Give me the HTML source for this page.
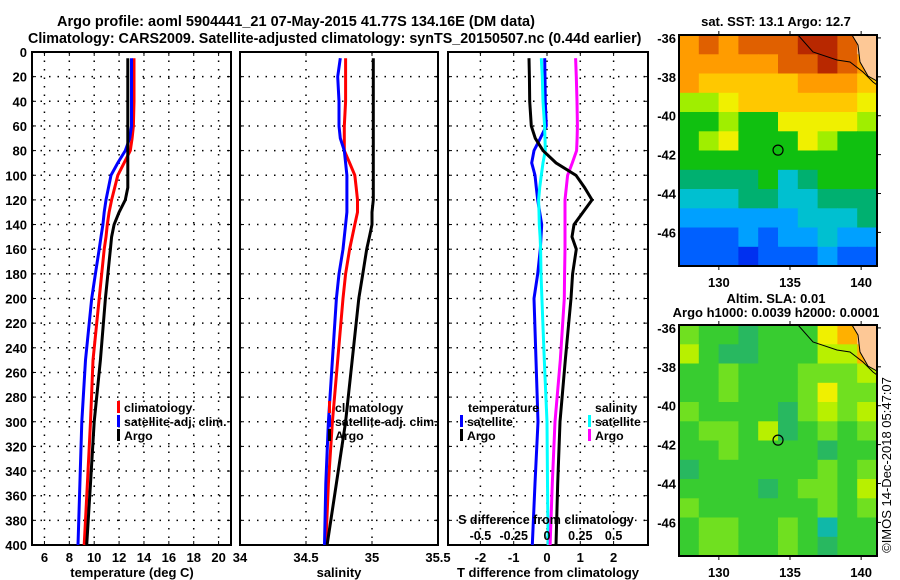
<!DOCTYPE html>
<html><head><meta charset="utf-8"><style>
body{margin:0;background:#fff;}
svg{display:block;font-family:"Liberation Sans",sans-serif;font-weight:bold;}
</style></head><body>
<svg id="c" width="900" height="580" xmlns="http://www.w3.org/2000/svg"></svg>
<script>
// ---- profile data ----
const depthT=[5,20,40,60,70,80,90,100,110,120,130,140,150,160,180,200,250,300,350,400];
const tempClim=[13.2,13.2,13.2,13.15,13.05,12.9,12.4,11.9,11.65,11.4,11.2,11.05,10.95,10.8,10.6,10.4,9.9,9.7,9.45,9.2];
const tempSat=[13.0,13.0,13.0,13.0,12.85,12.5,11.9,11.35,11.15,10.95,10.8,10.7,10.55,10.4,10.1,9.8,9.3,9.0,8.85,8.7];
const tempArgo=[12.7,12.7,12.7,12.7,12.7,12.7,12.7,12.7,12.7,12.5,12.0,11.6,11.4,11.3,11.1,10.9,10.5,10.0,9.7,9.4];
const salClim=[34.80,34.80,34.80,34.79,34.79,34.79,34.83,34.87,34.88,34.89,34.89,34.87,34.85,34.83,34.80,34.78,34.74,34.70,34.67,34.65];
const salSat=[34.76,34.74,34.75,34.75,34.76,34.79,34.80,34.81,34.81,34.81,34.81,34.80,34.79,34.78,34.75,34.73,34.70,34.67,34.65,34.64];
const salArgo=[35.01,35.01,35.01,35.01,35.01,35.01,35.01,35.01,35.01,35.01,35.0,35.0,34.98,34.96,34.93,34.90,34.85,34.80,34.73,34.66];
const tDiffSat=[-0.07,-0.06,-0.05,-0.02,-0.2,-0.39,-0.46,-0.36,-0.32,-0.28,-0.22,-0.16,-0.18,-0.2,-0.28,-0.39,-0.33,-0.27,-0.36,-0.44];
const tDiffArgo=[-0.54,-0.53,-0.52,-0.47,-0.35,-0.12,0.27,0.87,1.13,1.35,1.08,0.81,0.75,0.88,0.77,0.72,0.55,0.39,0.32,0.27];
const sDiffSat=[-0.043,-0.035,-0.03,-0.018,-0.015,-0.013,-0.03,-0.043,-0.055,-0.063,-0.06,-0.058,-0.052,-0.048,-0.045,-0.038,-0.02,0.0,0.004,0.008];
const sDiffArgo=[0.215,0.22,0.225,0.228,0.226,0.222,0.19,0.155,0.145,0.135,0.135,0.135,0.135,0.135,0.132,0.13,0.1,0.06,0.04,0.023];
const depthTicks=[0,20,40,60,80,100,120,140,160,180,200,220,240,260,280,300,320,340,360,380,400];
const tempTicks=[6,8,10,12,14,16,18,20];
const salTicks=[34,34.5,35,35.5];
const tdTicks=[-2,-1,0,1,2];
const sdTicks=[-0.5,-0.25,0,0.25,0.5];
const latTicks=[-36,-38,-40,-42,-44,-46];
const lonTicks=[130,135,140];
// SST map levels (rows north->south, 10 cols), -1 = land
const sstGrid=[
[9,10,9,10,10,10,11,11,10,-1],
[9,9,9,9,9,10,10,11,10,9],
[9,8,8,8,8,8,9,9,9,8],
[6,6,7,8,8,8,8,8,8,7],
[5,5,6,5,5,7,7,7,7,6],
[5,6,7,5,5,5,7,6,5,5],
[5,5,5,5,5,5,5,5,5,5],
[4,4,4,4,5,3,4,5,5,5],
[3,3,3,4,4,3,3,4,4,4],
[2,2,2,2,2,2,3,3,3,4],
[1,1,1,2,1,2,2,3,2,2],
[1,1,1,0,1,1,1,2,1,1]];
const slaGrid=[
[3,2,2,1,2,2,2,5,6,-1],
[4,2,1,1,2,2,2,4,4,6],
[2,2,3,2,2,2,3,3,3,4],
[2,2,3,2,2,2,3,5,3,3],
[3,2,2,2,2,1,3,4,3,4],
[2,3,3,2,4,1,2,3,2,3],
[2,2,3,2,2,2,2,1,2,2],
[1,2,2,2,2,2,2,3,2,3],
[2,2,2,2,1,2,3,3,2,4],
[3,2,2,2,2,2,2,3,2,3],
[2,3,3,2,2,3,2,0,2,2],
[2,3,3,2,2,3,2,1,2,2]];
const argoLon=134.16, argoLat=-41.77;

const sstCols=['#0030f0','#0060ff','#00a0ff','#00c0d0','#00b070','#10c010','#a0ee00','#f0f000','#ffc800','#ff9c00','#e06000','#b82800'];
const slaCols=['#10b8a8','#28b860','#38cc30','#70e020','#b8f000','#f0f000','#ffb000'];

const svg=document.getElementById('c');
const NS='http://www.w3.org/2000/svg';
function mk(tag,attrs,parent){const e=document.createElementNS(NS,tag);for(const k in attrs)e.setAttribute(k,attrs[k]);(parent||svg).appendChild(e);return e;}
function txt(x,y,s,anchor,size,name,parent){const t=mk('text',{x:x,y:y,'text-anchor':anchor||'middle','font-size':size||13},parent);t.textContent=s;


return t;}

const Y0=52,Y1=545;
const yd=d=>Y0+d*(Y1-Y0)/400;
const tx=T=>32+(T-5)*12.44;
const sx=S=>240+(S-34)*132;
const dx=v=>547+v*33.3;
const dsx=v=>547+v*133.2;

// titles
txt(57,26,'Argo profile: aoml 5904441_21 07-May-2015 41.77S 134.16E (DM data)','start',14.5,'title-line-1');
txt(28,43,'Climatology: CARS2009. Satellite-adjusted climatology: synTS_20150507.nc (0.44d earlier)','start',14.3,'title-line-2');

function panel(x0,x1,name){
  const g=mk('g',{});
  
  
  depthTicks.forEach(d=>{if(d>0&&d<400){const l=mk('line',{x1:x0,x2:x1,y1:yd(d),y2:yd(d),stroke:'#000','stroke-width':1.5,'stroke-dasharray':'1.5,7'},g);
  
  
  mk('line',{x1:x0,x2:x0+4,y1:yd(d),y2:yd(d),stroke:'#000'},g);mk('line',{x1:x1-4,x2:x1,y1:yd(d),y2:yd(d),stroke:'#000'},g);}});
  const r=mk('rect',{x:x0,y:Y0,width:x1-x0,height:Y1-Y0,fill:'none',stroke:'#000','stroke-width':2},g);
  
  
  return g;
}
function vgrid(g,vals,f){vals.forEach(v=>{const x=f(v);const l=mk('line',{x1:x,x2:x,y1:Y0,y2:Y1,stroke:'#000','stroke-width':1.5,'stroke-dasharray':'1.5,7'},g);


mk('line',{x1:x,x2:x,y1:Y1-4,y2:Y1,stroke:'#000'},g);mk('line',{x1:x,x2:x,y1:Y0,y2:Y0+4,stroke:'#000'},g);});}
function line(g,xs,f,color,name){const pts=xs.map((v,i)=>f(v).toFixed(1)+','+yd(depthT[i]).toFixed(1)).join(' ');
const p=mk('polyline',{points:pts,fill:'none',stroke:color,'stroke-width':3,'stroke-linejoin':'miter'},g);

}

// depth labels
depthTicks.forEach(d=>txt(27,yd(d)+5,String(d),'end',13,'depth-tick-label'));

// panel 1
const p1=panel(32,231,'temperature-panel');
vgrid(p1,tempTicks,tx);
line(p1,tempClim,tx,'#ff0000','climatology-temperature-line');
line(p1,tempSat,tx,'#0000ff','satellite-temperature-line');
line(p1,tempArgo,tx,'#000','argo-temperature-line');
tempTicks.forEach(v=>txt(tx(v),562,String(v),'middle',13,'temperature-tick-label'));
txt(132,577,'temperature (deg C)','middle',13,'temperature-axis-title');

// panel 2
const p2=panel(240,438,'salinity-panel');
vgrid(p2,[34.5,35],sx);
line(p2,salClim,sx,'#ff0000','climatology-salinity-line');
line(p2,salSat,sx,'#0000ff','satellite-salinity-line');
line(p2,salArgo,sx,'#000','argo-salinity-line');
salTicks.forEach(v=>txt(sx(v),562,String(v),'middle',13,'salinity-tick-label'));
txt(339,577,'salinity','middle',13,'salinity-axis-title');

// panel 3
const p3=panel(448,648,'difference-panel');
vgrid(p3,tdTicks,dx);
line(p3,tDiffSat,dx,'#0000ff','temperature-satellite-diff-line');
line(p3,sDiffSat,dsx,'#00ffff','salinity-satellite-diff-line');
line(p3,sDiffArgo,dsx,'#ff00ff','salinity-argo-diff-line');
line(p3,tDiffArgo,dx,'#000','temperature-argo-diff-line');
tdTicks.forEach(v=>txt(dx(v),562,String(v),'middle',13,'t-diff-tick-label'));
txt(548,577,'T difference from climatology','middle',13,'t-diff-axis-title');
txt(546,524,'S difference from climatology','middle',12.5,'s-diff-axis-title');
sdTicks.forEach(v=>txt(dsx(v),540,String(v),'middle',12.5,'s-diff-tick-label'));

// legends
function legend(x,y,color,label,name){const r=mk('rect',{x:x,y:y-6,width:3,height:12,fill:color});


txt(x+7,y+5,label,'start',12.3,name);}
legend(117,407,'#ff0000','climatology','legend-climatology');
legend(117,421,'#0000ff','satellite-adj. clim.','legend-satellite-adj');
legend(117,435,'#000','Argo','legend-argo');
legend(328,407,'#ff0000','climatology','legend-climatology-2');
legend(328,421,'#0000ff','satellite-adj. clim.','legend-satellite-adj-2');
legend(328,435,'#000','Argo','legend-argo-2');
txt(468,412,'temperature','start',12.3,'legend-temperature-heading');
legend(460,421,'#0000ff','satellite','legend-temperature-satellite');
legend(460,435,'#000','Argo','legend-temperature-argo');
txt(595,412,'salinity','start',12.3,'legend-salinity-heading');
legend(588,421,'#00ffff','satellite','legend-salinity-satellite');
legend(588,435,'#ff00ff','Argo','legend-salinity-argo');

// maps
const MX0=679,MX1=877;
const mx=lon=>MX0+(lon-127.2)*14.23;
function drawMap(oy,grid,cols,name,landCol){
  const g=mk('g',{});
  
  
  const my=lat=>oy+35+(-35.85-lat)*19.45;
  const H=231,W=MX1-MX0,rows=grid.length,nc=grid[0].length;
  grid.forEach((row,i)=>row.forEach((v,j)=>{
    const c=mk('rect',{x:(MX0+j*W/nc).toFixed(1),y:(oy+35+i*H/rows).toFixed(1),width:(W/nc+0.6).toFixed(1),height:(H/rows+0.6).toFixed(1),fill:v<0?landCol:cols[v]},g);
    
    
  }));
  const land=mk('polygon',{points:`852,${oy+35} 877,${oy+35} 877,${oy+81} 868,${oy+76} 860,${oy+62} 858,${oy+45}`,fill:'#fdc896',stroke:'#000','stroke-width':1},g);
  
  
  const coast=mk('polyline',{points:`798,${oy+35} 813,${oy+52} 837,${oy+60} 850,${oy+62} 863,${oy+72} 873,${oy+82} 877,${oy+85}`,fill:'none',stroke:'#000','stroke-width':1},g);
  
  
  const fr=mk('rect',{x:MX0,y:oy+35,width:W,height:H,fill:'none',stroke:'#000','stroke-width':2},g);
  
  
  latTicks.forEach(l=>{mk('line',{x1:MX1,x2:MX1+4,y1:my(l),y2:my(l),stroke:'#000'},g);txt(676,my(l)+5,String(l),'end',13,'latitude-tick-label',g);});
  lonTicks.forEach(l=>{mk('line',{x1:mx(l),x2:mx(l),y1:oy+266,y2:oy+270,stroke:'#000'},g);mk('line',{x1:mx(l),x2:mx(l),y1:oy+31,y2:oy+35,stroke:'#000'},g);txt(mx(l),oy+287,String(l),'middle',13,'longitude-tick-label',g);});
  const ci=mk('circle',{cx:mx(argoLon),cy:my(argoLat),r:5,fill:'none',stroke:'#000','stroke-width':1.2},g);
  
  
}
drawMap(0,sstGrid,sstCols,'sst-map','#fdc896');
drawMap(290,slaGrid,slaCols,'sla-map','#fdc896');
txt(776,26,'sat. SST: 13.1 Argo: 12.7','middle',13,'sst-map-title');
txt(776,303,'Altim. SLA: 0.01','middle',13,'sla-map-title');
txt(776,317,'Argo h1000: 0.0039 h2000: 0.0001','middle',13,'sla-map-subtitle');
const cr=txt(0,0,'©IMOS 14-Dec-2018 05:47:07','middle',13,'imos-timestamp');
cr.setAttribute('transform','translate(891,465) rotate(-90)');
cr.setAttribute('font-weight','normal');
</script>
</body></html>
